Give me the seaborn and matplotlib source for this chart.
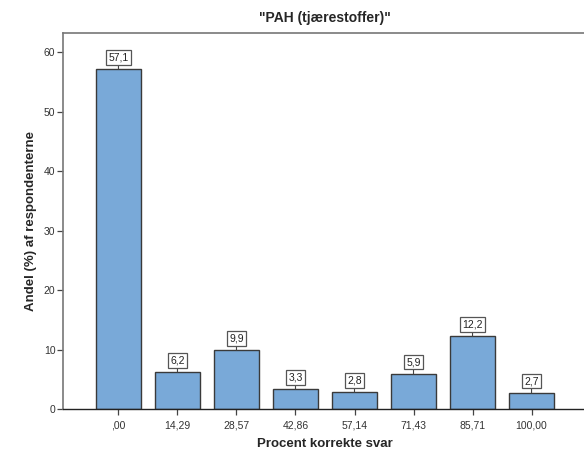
import matplotlib
matplotlib.use("Agg")
import matplotlib.pyplot as plt
import pandas as pd
import seaborn as sns

categories = [",00", "14,29", "28,57", "42,86", "57,14", "71,43", "85,71", "100,00"]
percent = [57.1, 6.2, 9.9, 3.3, 2.8, 5.9, 12.2, 2.7]
value_labels = ["57,1", "6,2", "9,9", "3,3", "2,8", "5,9", "12,2", "2,7"]

df = pd.DataFrame({"svar": categories, "andel": percent})

sns.set_style("white")
plt.rcParams["font.family"] = ["Liberation Sans", "DejaVu Sans"]

fig = plt.figure(figsize=(5.84, 4.53), dpi=100)
ax = fig.add_axes([63 / 584, 44 / 453, 524 / 584, 376 / 453])

sns.barplot(data=df, x="svar", y="andel", order=categories, color="#79a9d8",
            saturation=1, width=0.76, edgecolor="#3a3a3a", linewidth=1.0, ax=ax)

for i, (v, lab) in enumerate(zip(percent, value_labels)):
    ax.annotate(lab, xy=(i, v), xytext=(0, 8.5), textcoords="offset points",
                ha="center", va="center", fontsize=7.5, color="#222222",
                bbox=dict(boxstyle="square,pad=0.22", fc="white", ec="#555555", lw=0.9),
                arrowprops=dict(arrowstyle="-", color="#444444", lw=0.8,
                                shrinkA=0, shrinkB=0))

ax.set_ylim(0, 63.2)
ax.set_xlim(-0.94, 7.94)
ax.set_yticks(range(0, 61, 10))

for side in ["top", "left", "right"]:
    ax.spines[side].set_color("#777777")
    ax.spines[side].set_linewidth(1.2)
ax.spines["bottom"].set_color("#222222")
ax.spines["bottom"].set_linewidth(1.0)

ax.tick_params(axis="both", which="both", direction="out", length=4, width=0.9,
               bottom=True, left=True, colors="#444444", labelsize=7.5,
               labelcolor="#333333", pad=1.5)
ax.tick_params(axis="x", pad=4)

ax.set_xlabel("Procent korrekte svar", fontsize=9.5, fontweight="bold", labelpad=6)
ax.set_ylabel("Andel (%) af respondenterne", fontsize=9.5, fontweight="bold", labelpad=5)
ax.set_title("\"PAH (tjærestoffer)\"", fontsize=10, fontweight="bold", pad=8)

fig.savefig("out.png", dpi=100)
